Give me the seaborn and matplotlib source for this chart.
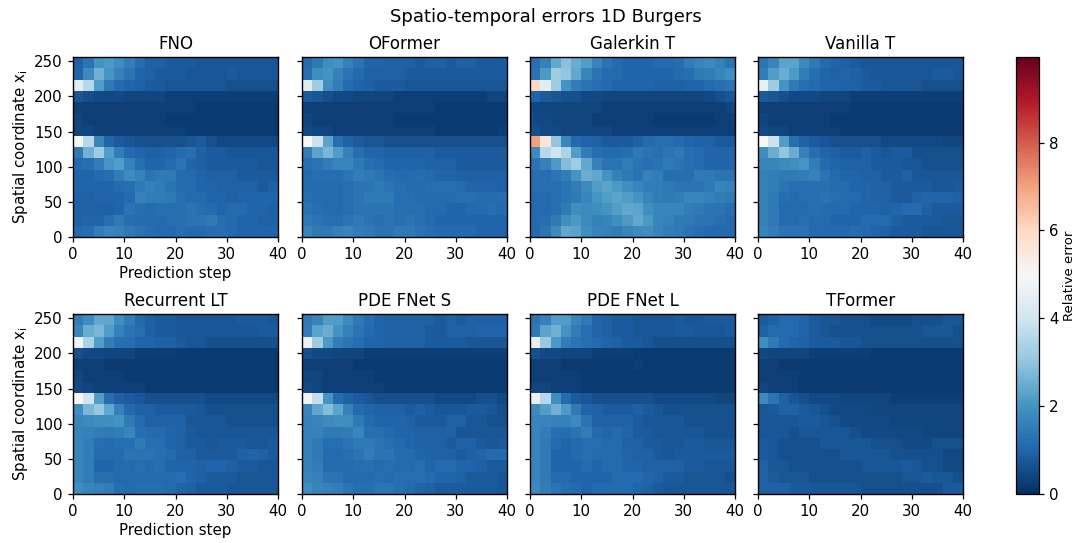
import matplotlib
matplotlib.use("Agg")
import matplotlib.pyplot as plt
import seaborn as sns
import numpy as np

sns.set_theme(style="ticks", rc={"axes.linewidth": 1.0, "text.color": "black",
                                 "axes.labelcolor": "black", "axes.titlecolor": "black"})

# Each table: rows run from x_i = 256 (top) down to 0 in bins of 16,
# columns run over prediction steps 0..40 in bins of 2. Values.
fno = [
 [.9,1.3,2.0,2.1,1.9,1.5,1.2,.9,.9,.8,.8,.8,.7,.7,.7,.7,.7,.7,.7,.7],
 [1.0,1.8,2.6,2.0,1.6,1.3,1.0,.9,.8,.8,.8,.7,.7,.7,.7,.8,.7,.7,.7,.7],
 [4.4,3.6,2.2,1.4,1.1,1.0,.9,.8,.8,.7,.7,.7,.7,.7,.7,.6,.6,.6,.6,.6],
 [.7,.6,.5,.5,.5,.4,.4,.4,.4,.3,.3,.3,.3,.3,.3,.3,.3,.3,.3,.3],
 [.3,.3,.3,.3,.3,.3,.3,.3,.3,.3,.3,.3,.2,.2,.2,.2,.2,.2,.2,.2],
 [.4,.3,.3,.3,.3,.3,.3,.3,.3,.2,.2,.2,.2,.2,.2,.2,.2,.2,.2,.2],
 [.4,.4,.3,.3,.3,.3,.3,.3,.3,.3,.3,.2,.2,.2,.2,.2,.2,.2,.2,.2],
 [5.0,3.6,1.7,1.0,.8,.7,.6,.6,.6,.6,.6,.7,.8,.6,.5,.5,.5,.5,.5,.5],
 [1.4,2.6,3.2,2.2,1.5,1.1,1.0,.9,.9,1.0,1.1,1.2,.9,.8,.8,.7,.7,.7,.7,.7],
 [1.1,1.2,1.5,2.0,2.2,1.6,1.2,1.0,1.0,1.1,1.3,1.0,.9,.8,.8,.8,.8,.8,.7,.7],
 [1.0,1.0,1.1,1.2,1.5,1.8,1.6,1.3,1.4,1.4,1.1,1.1,1.0,.9,.9,.9,.8,.8,.8,.8],
 [1.0,1.0,1.0,1.0,1.1,1.2,1.4,1.6,1.5,1.3,1.1,1.1,1.0,1.0,.9,.9,.9,.9,.8,.9],
 [.9,.9,1.0,1.0,1.0,1.1,1.6,1.5,1.5,1.4,1.2,1.1,1.1,1.0,1.0,.9,1.0,1.0,1.0,1.0],
 [.9,.9,.9,.9,1.0,1.3,1.2,1.1,1.2,1.2,1.2,1.3,1.2,1.1,1.0,1.1,1.1,1.0,1.0,.9],
 [.9,1.0,1.0,1.2,1.4,1.2,1.1,1.1,1.1,1.2,1.2,1.3,1.3,1.4,1.2,1.1,1.0,1.0,.9,.9],
 [1.1,1.2,1.5,1.7,1.6,1.4,1.3,1.2,1.1,1.1,1.2,1.1,1.1,1.2,1.2,1.1,1.0,1.0,1.0,1.0],
]
oformer = [
 [1.1,1.4,1.9,2.0,1.6,1.3,1.0,1.0,.9,.9,.9,.8,.9,.9,.8,.9,.9,.8,.8,.8],
 [1.2,1.9,2.0,1.6,1.3,1.1,.9,.9,.9,.9,.8,.8,.8,.8,.8,.8,.8,.8,.8,.8],
 [4.3,3.2,1.9,1.5,1.1,1.0,.9,.8,.8,.8,.7,.7,.7,.7,.7,.7,.7,.7,.7,.7],
 [.8,.7,.6,.5,.5,.4,.4,.4,.4,.3,.3,.3,.3,.3,.3,.3,.3,.3,.4,.4],
 [.3,.3,.3,.3,.3,.3,.3,.3,.3,.3,.3,.3,.3,.2,.2,.2,.2,.2,.2,.2],
 [.4,.3,.3,.3,.3,.3,.3,.3,.3,.2,.2,.2,.2,.2,.2,.2,.2,.2,.2,.2],
 [.5,.4,.4,.3,.3,.3,.3,.3,.3,.3,.3,.3,.3,.2,.2,.2,.2,.2,.2,.3],
 [5.0,3.9,2.3,1.2,.9,.8,.7,.7,.6,.6,.6,.6,.6,.6,.6,.6,.6,.6,.6,.6],
 [1.5,2.3,2.7,2.2,1.6,1.2,1.0,1.0,.9,.9,.9,.9,.9,.8,.8,.8,.8,.8,.8,.8],
 [1.2,1.3,1.5,1.7,1.7,1.4,1.2,1.1,1.0,1.0,1.0,1.0,.9,.9,.9,.8,.8,.8,.8,.8],
 [1.1,1.2,1.2,1.2,1.3,1.5,1.4,1.3,1.2,1.1,1.1,1.2,1.1,1.0,1.0,.9,.9,.9,.9,.9],
 [1.1,1.1,1.1,1.1,1.2,1.3,1.3,1.4,1.3,1.2,1.1,1.1,1.2,1.2,1.2,1.1,1.0,1.0,1.0,.9],
 [1.2,1.1,1.1,1.1,1.2,1.3,1.4,1.4,1.4,1.2,1.2,1.1,1.1,1.1,1.1,1.2,1.2,1.1,1.1,1.2],
 [1.3,1.2,1.1,1.1,1.2,1.3,1.3,1.3,1.3,1.2,1.2,1.2,1.1,1.1,1.0,1.0,1.1,1.1,1.2,1.1],
 [1.4,1.3,1.2,1.2,1.3,1.4,1.3,1.2,1.3,1.2,1.3,1.2,1.1,1.0,1.0,1.0,1.0,1.0,1.0,1.0],
 [1.7,1.4,1.4,1.6,1.7,1.5,1.4,1.3,1.3,1.4,1.4,1.3,1.2,1.1,1.1,1.1,1.1,1.0,1.0,1.0],
]
galerkin = [
 [1.2,1.6,2.4,2.9,2.5,2.2,1.7,1.3,1.1,1.0,1.0,1.0,1.1,1.1,1.2,1.5,1.7,1.8,1.6,1.3],
 [1.3,2.1,3.2,3.0,2.4,1.7,1.3,1.1,1.1,1.0,1.0,1.0,1.0,1.0,1.1,1.2,1.4,1.5,1.7,1.9],
 [6.0,4.4,3.2,2.0,1.5,1.3,1.2,1.1,1.0,1.0,1.0,1.0,.9,.9,.9,1.0,1.0,1.1,1.2,1.3],
 [1.0,.8,.7,.6,.6,.5,.5,.4,.4,.4,.4,.4,.4,.4,.4,.4,.4,.5,.6,.7],
 [.4,.4,.4,.4,.4,.4,.4,.3,.3,.3,.3,.3,.3,.3,.3,.3,.3,.3,.3,.4],
 [.5,.5,.4,.4,.4,.4,.3,.3,.3,.3,.3,.3,.2,.2,.2,.2,.2,.2,.3,.3],
 [.6,.5,.5,.4,.4,.4,.4,.4,.3,.3,.3,.3,.3,.3,.3,.3,.3,.3,.3,.3],
 [7.0,5.6,3.0,1.7,1.1,1.0,.9,.8,.8,.8,.9,1.1,1.2,1.2,1.1,1.0,.9,.9,.8,.8],
 [1.8,3.6,4.0,3.4,2.2,1.5,1.2,1.1,1.1,1.2,1.4,1.3,1.2,1.3,1.4,1.2,1.1,1.0,1.0,1.0],
 [1.3,1.6,2.1,2.8,3.2,2.4,1.6,1.3,1.3,1.5,1.3,1.2,1.3,1.4,1.3,1.2,1.1,1.0,1.0,1.0],
 [1.2,1.2,1.3,1.5,2.0,2.5,2.4,2.0,1.6,1.4,1.3,1.6,1.5,1.2,1.2,1.2,1.4,1.4,1.3,1.3],
 [1.2,1.2,1.2,1.3,1.5,1.8,2.2,2.3,2.1,1.9,1.7,1.5,1.5,1.4,1.3,1.3,1.3,1.4,1.7,1.6],
 [1.1,1.1,1.2,1.3,1.4,1.7,2.0,2.2,2.3,2.2,2.0,1.7,1.5,1.4,1.5,1.7,1.7,1.6,1.5,1.4],
 [1.1,1.1,1.2,1.4,1.9,1.8,1.9,2.0,2.2,2.4,2.3,1.9,1.7,1.7,1.7,1.5,1.4,1.3,1.3,1.2],
 [1.1,1.2,1.4,1.9,2.1,1.8,1.6,1.7,1.9,2.1,2.4,2.1,1.7,1.6,1.4,1.4,1.3,1.3,1.2,1.1],
 [1.1,1.3,1.8,2.4,2.3,1.9,1.7,1.6,1.5,1.7,1.8,1.9,1.7,1.5,1.4,1.3,1.2,1.1,1.1,1.1],
]
vanilla = [
 [1.3,1.7,2.3,2.3,1.8,1.4,1.1,1.0,.9,.8,.7,.7,.7,.7,.7,.7,.7,.7,.7,.7],
 [1.5,2.2,2.5,2.1,1.5,1.2,1.0,.9,1.0,.9,.8,.7,.7,.7,.7,.7,.7,.8,.8,.7],
 [4.6,3.2,2.0,1.4,1.2,1.1,1.0,1.0,.9,.9,.8,.8,.7,.7,.7,.7,.6,.6,.6,.6],
 [.8,.7,.6,.5,.5,.5,.4,.4,.4,.3,.3,.3,.3,.3,.3,.3,.3,.3,.3,.3],
 [.3,.3,.3,.3,.3,.3,.3,.3,.3,.2,.2,.2,.2,.2,.2,.2,.2,.2,.2,.2],
 [.4,.3,.3,.3,.3,.3,.3,.2,.2,.2,.2,.2,.2,.2,.2,.2,.2,.2,.2,.2],
 [.5,.4,.4,.3,.3,.3,.3,.3,.2,.2,.2,.2,.2,.2,.2,.2,.2,.2,.2,.2],
 [5.0,3.9,2.2,1.2,.9,.8,.7,.6,.6,.6,.6,.6,.5,.5,.5,.5,.5,.5,.4,.4],
 [1.9,2.5,3.0,2.5,1.6,1.2,1.0,.9,.8,.8,.9,.8,.7,.8,.8,.6,.6,.6,.6,.6],
 [1.7,1.7,1.8,1.9,2.0,1.5,1.1,1.0,.9,.9,.9,.8,.8,.8,.7,.7,.6,.6,.6,.6],
 [1.6,1.5,1.4,1.4,1.5,1.6,1.3,1.1,1.0,1.0,.9,.9,.8,.8,.9,.7,.7,.7,.7,.7],
 [1.6,1.5,1.3,1.2,1.2,1.2,1.2,1.1,1.1,1.0,1.0,.9,.9,.8,.8,.8,.8,.7,.7,.8],
 [1.6,1.4,1.2,1.1,1.2,1.2,1.3,1.2,1.1,1.1,1.0,.9,.9,.8,.8,.9,1.0,1.0,1.0,.9],
 [1.6,1.4,1.1,1.1,1.1,1.2,1.1,1.1,1.1,1.0,1.0,1.0,.9,1.0,1.1,1.1,.9,.8,.8,.8],
 [1.6,1.4,1.1,1.1,1.2,1.1,1.1,1.0,1.0,1.0,1.1,1.1,1.1,.9,.8,.8,.8,.8,.7,.7],
 [1.7,1.5,1.3,1.3,1.3,1.1,1.1,1.1,1.1,1.2,1.1,1.0,.9,.8,.8,.8,.7,.7,.7,.7],
]
recurrent = [
 [1.5,1.9,2.4,2.4,1.9,1.5,1.1,.9,.8,.8,.7,.7,.7,.7,.7,.7,.8,.8,.8,.7],
 [1.7,2.5,2.7,2.2,1.6,1.3,1.2,.9,.8,.8,.7,.7,.7,.7,.7,.7,.7,.7,.8,.8],
 [4.8,3.4,2.2,1.5,1.2,1.2,1.0,1.0,.9,.9,.8,.7,.7,.6,.6,.6,.6,.6,.6,.6],
 [.6,.5,.5,.4,.4,.4,.3,.3,.3,.3,.2,.2,.2,.2,.2,.2,.2,.2,.2,.2],
 [.3,.3,.3,.2,.2,.2,.2,.2,.2,.2,.2,.2,.2,.2,.2,.2,.2,.2,.2,.2],
 [.4,.3,.3,.3,.3,.2,.2,.2,.2,.2,.2,.2,.2,.2,.2,.2,.2,.2,.2,.2],
 [.5,.4,.3,.3,.3,.3,.3,.2,.2,.2,.2,.2,.2,.2,.2,.2,.2,.2,.2,.2],
 [5.0,4.0,2.2,1.2,.9,.8,.7,.6,.6,.6,.6,.6,.6,.5,.5,.5,.5,.5,.5,.5],
 [1.9,2.7,3.1,2.4,1.6,1.1,.9,.9,.8,.8,.8,.8,.7,.6,.6,.6,.6,.6,.6,.6],
 [1.7,1.8,1.9,1.9,2.0,1.4,1.1,.9,.9,.9,.9,.7,.7,.7,.7,.6,.6,.6,.6,.6],
 [1.7,1.6,1.5,1.4,1.5,1.7,1.2,1.1,1.1,1.0,.9,.8,.7,.7,.7,.7,.7,.7,.7,.7],
 [1.7,1.5,1.2,1.1,1.2,1.2,1.4,1.2,1.2,1.0,.9,.8,.8,.7,.8,.8,.8,.7,.7,.8],
 [1.7,1.5,1.1,1.1,1.1,1.3,1.3,1.3,1.2,1.1,.9,.9,.8,.8,.8,.8,.9,1.0,.9,.8],
 [1.7,1.5,1.0,1.0,1.1,1.1,1.2,1.1,1.2,1.0,1.0,1.0,.9,1.0,1.0,.9,.8,.8,.7,.7],
 [1.7,1.5,1.2,1.2,1.1,1.1,1.1,1.1,1.1,1.1,1.2,1.0,.9,.8,.8,.8,.7,.7,.7,.7],
 [1.9,1.7,1.6,1.5,1.2,1.1,1.2,1.2,1.2,1.1,1.0,.9,.8,.8,.8,.7,.7,.7,.7,.7],
]
fnet_s = [
 [1.4,1.7,2.2,2.2,1.8,1.4,1.2,1.0,.9,.9,.9,.9,.9,.8,.9,.8,.9,.9,.9,.9],
 [1.5,2.3,2.5,2.0,1.6,1.3,1.1,1.0,.9,.9,.9,.9,.8,.8,.9,.9,.9,1.0,1.0,1.0],
 [4.7,3.2,2.1,1.5,1.3,1.2,1.0,1.0,.9,.9,.9,.9,.8,.8,.8,.8,.7,.7,.7,.7],
 [.6,.5,.5,.4,.4,.4,.3,.3,.3,.3,.3,.3,.3,.3,.3,.3,.3,.3,.3,.3],
 [.3,.3,.3,.3,.3,.2,.2,.2,.2,.2,.2,.2,.2,.2,.2,.2,.2,.2,.2,.2],
 [.4,.4,.3,.3,.3,.3,.3,.2,.2,.2,.2,.2,.2,.2,.2,.2,.2,.2,.2,.2],
 [.5,.4,.3,.3,.3,.3,.3,.3,.2,.2,.2,.2,.2,.2,.2,.2,.2,.2,.2,.2],
 [4.8,3.8,2.0,1.1,.9,.8,.7,.6,.6,.6,.6,.6,.6,.5,.5,.5,.5,.6,.6,.5],
 [1.7,2.4,2.8,2.3,1.6,1.1,1.0,.9,.9,.9,.8,.9,.8,.7,.7,.7,.8,.8,.7,.6],
 [1.6,1.7,1.8,1.9,1.9,1.4,1.1,1.0,1.0,1.0,.9,.8,.8,.8,.9,.9,.7,.7,.6,.6],
 [1.6,1.6,1.4,1.4,1.5,1.7,1.2,1.2,1.1,1.0,1.0,.9,.9,.9,.9,.7,.7,.7,.7,.7],
 [1.6,1.4,1.2,1.2,1.3,1.4,1.4,1.3,1.2,1.1,1.0,.9,.9,.9,.8,.9,.9,.8,.7,.8],
 [1.6,1.4,1.1,1.1,1.2,1.3,1.5,1.3,1.3,1.1,1.1,1.0,.9,.9,.9,.8,.9,1.0,1.1,1.1],
 [1.6,1.5,1.1,1.1,1.1,1.2,1.2,1.1,1.2,1.1,1.1,1.2,1.0,1.1,1.1,1.0,1.0,.9,.8,.8],
 [1.7,1.6,1.3,1.3,1.1,1.1,1.1,1.2,1.1,1.2,1.2,1.2,1.1,1.0,1.0,.9,.8,.8,.8,.7],
 [1.9,1.7,1.6,1.5,1.3,1.2,1.2,1.3,1.3,1.2,1.1,1.0,.9,.8,.8,.8,.8,.8,.8,.7],
]
fnet_l = [
 [1.3,1.6,2.2,2.2,1.7,1.4,1.0,.9,.8,.8,.7,.7,.7,.7,.8,.7,.7,.8,.8,.8],
 [1.4,2.3,2.6,2.0,1.5,1.2,1.0,.9,.8,.8,.7,.7,.7,.7,.8,.8,.7,.7,.7,.8],
 [4.6,3.1,2.1,1.5,1.3,1.2,1.1,1.0,.9,.8,.8,.7,.6,.6,.6,.6,.6,.6,.6,.6],
 [.6,.5,.5,.4,.4,.4,.3,.3,.3,.3,.2,.2,.2,.2,.2,.2,.2,.2,.2,.2],
 [.3,.3,.3,.2,.2,.2,.2,.2,.2,.2,.3,.2,.2,.2,.2,.2,.2,.2,.2,.2],
 [.3,.3,.3,.3,.3,.2,.2,.2,.2,.2,.2,.2,.2,.2,.2,.2,.2,.2,.2,.2],
 [.4,.4,.3,.3,.3,.2,.2,.2,.2,.2,.2,.2,.2,.2,.2,.2,.2,.2,.2,.2],
 [4.6,3.6,1.9,1.1,.8,.7,.6,.6,.6,.6,.6,.6,.5,.5,.5,.5,.5,.5,.4,.4],
 [1.8,2.2,2.6,2.1,1.4,1.0,.9,.8,.8,.8,.9,.8,.7,.6,.6,.6,.6,.6,.6,.6],
 [1.7,1.7,1.6,1.6,1.8,1.3,.9,.9,.9,.9,.8,.7,.7,.7,.7,.6,.6,.6,.6,.6],
 [1.7,1.5,1.2,1.2,1.3,1.5,1.1,1.0,1.1,1.0,.8,.8,.7,.7,.7,.7,.7,.6,.6,.6],
 [1.7,1.4,1.1,1.0,1.1,1.2,1.2,1.1,1.1,.9,.9,.8,.8,.7,.7,.8,.8,.7,.7,.7],
 [1.7,1.4,1.0,1.0,1.1,1.2,1.1,1.1,1.1,1.0,.9,.9,.8,.7,.8,.8,.8,.8,.8,.8],
 [1.7,1.4,1.0,1.0,1.0,1.1,1.0,1.1,1.1,1.0,1.0,.9,.9,.9,.9,.8,.8,.7,.7,.7],
 [1.7,1.4,1.1,1.1,1.0,1.0,1.0,1.0,1.1,1.1,1.1,1.0,.9,.8,.8,.7,.7,.7,.7,.6],
 [1.8,1.5,1.3,1.2,1.1,1.0,1.1,1.1,1.1,1.1,1.0,.9,.8,.7,.7,.7,.7,.7,.7,.7],
]
tformer = [
 [.8,.9,1.1,1.1,1.0,.8,.7,.7,.6,.6,.6,.5,.5,.5,.5,.6,.6,.6,.7,.7],
 [.9,1.1,1.1,1.1,1.0,.8,.7,.6,.6,.6,.6,.6,.6,.6,.6,.6,.7,.7,.7,.6],
 [1.9,1.4,1.1,1.0,.9,.8,.8,.8,.7,.7,.6,.6,.6,.6,.6,.6,.6,.6,.6,.6],
 [.5,.4,.4,.4,.4,.3,.3,.3,.3,.3,.3,.2,.2,.2,.2,.2,.2,.2,.2,.2],
 [.3,.3,.2,.2,.2,.2,.2,.2,.2,.2,.2,.2,.2,.2,.2,.2,.2,.2,.2,.2],
 [.3,.3,.3,.3,.2,.2,.2,.2,.2,.2,.2,.2,.2,.2,.2,.2,.2,.2,.2,.2],
 [.4,.3,.3,.3,.2,.2,.2,.2,.2,.2,.2,.2,.2,.2,.2,.2,.2,.2,.2,.2],
 [1.8,1.3,.9,.7,.6,.5,.5,.5,.4,.4,.4,.4,.4,.3,.3,.3,.3,.3,.3,.3],
 [.7,.8,.9,.9,.8,.7,.6,.5,.5,.5,.5,.4,.4,.4,.4,.4,.4,.4,.4,.4],
 [.7,.7,.7,.7,.8,.8,.7,.6,.5,.5,.5,.5,.5,.4,.4,.4,.4,.4,.4,.4],
 [.7,.7,.7,.6,.7,.7,.7,.7,.7,.6,.5,.5,.5,.5,.5,.5,.4,.4,.4,.4],
 [.8,.7,.6,.6,.6,.6,.7,.7,.7,.7,.7,.6,.6,.6,.5,.5,.5,.6,.6,.6],
 [.8,.7,.6,.6,.6,.6,.6,.6,.7,.7,.7,.7,.7,.6,.6,.6,.6,.6,.5,.5],
 [.9,.7,.7,.6,.6,.6,.6,.6,.6,.6,.7,.7,.7,.7,.8,.7,.6,.6,.5,.5],
 [.9,.8,.7,.7,.7,.6,.6,.6,.6,.6,.6,.6,.6,.6,.7,.7,.8,.7,.7,.6],
 [.9,.9,.9,.8,.8,.7,.7,.7,.7,.7,.6,.6,.6,.6,.6,.6,.6,.6,.8,.8],
]

titles = ["FNO", "OFormer", "Galerkin T", "Vanilla T",
          "Recurrent LT", "PDE FNet S", "PDE FNet L", "TFormer"]
tables = [fno, oformer, galerkin, vanilla, recurrent, fnet_s, fnet_l, tformer]
x_ticks = [0, 10, 20, 30, 40]
y_ticks = [0, 50, 100, 150, 200, 250]
cbar_ticks = [0, 2, 4, 6, 8]
x_bin, y_bin, y_top = 2, 16, 256
err_min, err_max = 0, 9.95

W, H = 1081, 543
fig = plt.figure(figsize=(W / 100, H / 100), dpi=100)
lefts = [73, 302, 530, 758]
tops = [57, 314]
aw, ah = 205, 180
cax = fig.add_axes([1016 / W, 1 - 494 / H, 23 / W, 437 / H])
cbar = None

for k, (name, table) in enumerate(zip(titles, tables)):
    r, c = divmod(k, 4)
    ax = fig.add_axes([lefts[c] / W, 1 - (tops[r] + ah) / H, aw / W, ah / H])
    sns.heatmap(np.array(table), ax=ax, cmap="RdBu_r", vmin=err_min, vmax=err_max,
                cbar=k == 0, cbar_ax=cax if k == 0 else None,
                cbar_kws={"ticks": cbar_ticks}, square=False,
                xticklabels=False, yticklabels=False)
    if k == 0:
        cbar = ax.collections[0].colorbar
    for s in ax.spines.values():
        s.set_visible(True)
        s.set_linewidth(1.0)
        s.set_color("black")
    ax.set_xticks([v / x_bin for v in x_ticks])
    ax.set_xticklabels([str(v) for v in x_ticks], rotation=0, fontsize=10.8)
    ax.set_yticks([(y_top - v) / y_bin for v in y_ticks])
    if c == 0:
        ax.set_yticklabels([str(v) for v in y_ticks], rotation=0, fontsize=10.8)
        ax.set_ylabel("Spatial coordinate x$_\\mathrm{i}$", fontsize=10.8, labelpad=3)
    else:
        ax.set_yticklabels([])
    ax.tick_params(length=3.8, width=0.9, color="black", labelcolor="black", pad=3.5,
                   bottom=True, left=True)
    if c == 0 and r == 0:
        ax.set_xlabel("Prediction step", fontsize=10.8, labelpad=3)
    elif c == 0:
        ax.set_xlabel("Prediction step", fontsize=10.8, labelpad=3)
    ax.set_title(name, fontsize=12, pad=6, color="black")

cax.tick_params(length=3.8, width=0.9, labelsize=10.8, pad=3.5, right=True,
                color="black", labelcolor="black")
cax.set_ylabel("Relative error", fontsize=9.5, labelpad=3, color="black")
cbar.outline.set_visible(True)
cbar.outline.set_linewidth(0.9)
cbar.outline.set_edgecolor("black")

fig.text(546 / W, 1 - 17 / H, "Spatio-temporal errors 1D Burgers", fontsize=13,
         ha="center", va="center", color="black")
fig.savefig("out.png", dpi=100)
